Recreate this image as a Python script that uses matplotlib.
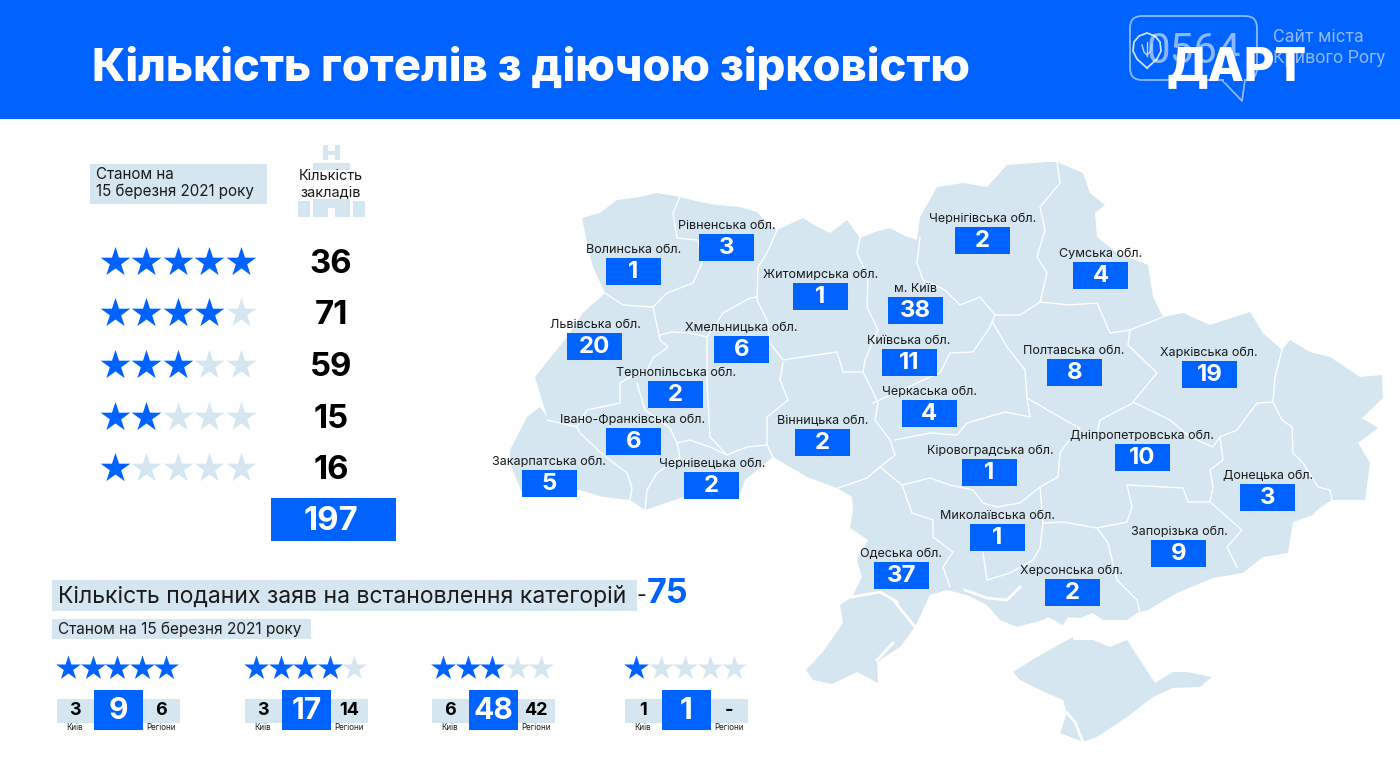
import matplotlib
matplotlib.use("Agg")
import matplotlib.pyplot as plt
from matplotlib.patches import Polygon, Rectangle, FancyBboxPatch

plt.rcParams['font.family'] = ['Inter', 'DejaVu Sans']

# star table
star_levels = [5, 4, 3, 2, 1]
star_counts = [36, 71, 59, 15, 16]
star_total = 197

# applications block
apps_total = 75
apps_levels = [5, 4, 3, 1]
apps_kyiv = ['3', '3', '6', '1']
apps_sum = ['9', '17', '48', '1']
apps_regions = ['6', '14', '42', '-']

# regions
region_names = ['Волинська обл.', 'Рівненська обл.', 'Житомирська обл.', 'м. Київ', 'Чернігівська обл.',
                'Сумська обл.', 'Львівська обл.', 'Хмельницька обл.', 'Київська обл.', 'Полтавська обл.',
                'Харківська обл.', 'Тернопільська обл.', 'Черкаська обл.', 'Івано-Франківська обл.',
                'Вінницька обл.', 'Дніпропетровська обл.', 'Кіровоградська обл.', 'Закарпатська обл.',
                'Чернівецька обл.', 'Донецька обл.', 'Миколаївська обл.', 'Запорізька обл.',
                'Одеська обл.', 'Херсонська обл.']
region_counts = [1, 3, 1, 38, 2, 4, 20, 6, 11, 8, 19, 2, 4, 6, 2, 10, 1, 5, 2, 3, 1, 9, 37, 2]

# layout: left and top of each region box, in image pixels
box_left = [606, 699, 793, 888, 955, 1073, 567, 714, 882, 1047, 1182, 648, 902, 606, 795, 1115, 962, 522, 684, 1240, 970, 1151, 874, 1045]
box_top = [258, 234, 283, 297, 227, 262, 333, 336, 349, 359, 361, 381, 400, 428, 429, 444, 459, 470, 472, 484, 524, 540, 562, 579]
label_x = [634, 727, 821, 916, 983, 1101, 595, 741, 909, 1074, 1209, 676, 929, 633, 823, 1142, 990, 549, 712, 1268, 998, 1179, 901, 1072]

BLUE = '#0062FF'
PALE = '#D5E6F0'
INK = '#1B1B1B'

# map outline, traced in image pixels
ukraine = [(582,218),(600,213),(617,200),(640,197),(657,193),(680,197),(700,202),(717,205),(740,207),(757,212),(768,224),(777,230),
           (803,218),(816,226),(830,233),(847,220),(860,238),(875,232),(890,228),(905,236),(917,240),(920,217),(928,203),(937,187),
           (963,183),(987,187),(1007,165),(1047,162),(1057,162),(1083,173),(1090,193),(1105,205),(1095,213),(1097,237),(1117,253),
           (1148,265),(1153,297),(1163,317),(1183,313),(1210,325),(1250,312),(1263,333),(1282,350),(1290,340),(1310,352),(1330,357),
           (1360,377),(1382,375),(1383,398),(1362,418),(1378,428),(1358,443),(1370,463),(1365,500),(1332,500),(1317,510),(1313,515),
           (1293,522),(1288,553),(1263,557),(1243,573),(1213,578),(1177,593),(1148,610),(1137,613),(1127,620),(1117,620),(1103,620),
           (1093,613),(1080,618),(1068,617),(1063,625),(1048,617),(1043,620),(1017,627),(1000,620),(987,605),
           (967,595),(947,590),(930,595),(915,627),(900,647),(877,662),(878,683),(857,672),(832,684),(813,680),(806,670),
           (822,653),(843,623),(840,605),(852,597),(862,577),(857,560),(868,540),(850,528),(853,510),(852,497),(837,488),
           (807,477),(773,457),(767,462),(745,480),(739,497),(683,497),(645,510),(630,500),(603,497),(580,490),(522,493),
           (510,463),(510,450),(527,417),(540,407),(547,417),(535,377),(567,337),(583,313),(605,293),(593,267),(587,243)]
crimea = [(1013,672),(1037,657),(1073,637),(1073,640),(1093,640),(1110,647),(1127,640),(1140,660),(1155,683),(1173,672),(1187,672),(1212,677),
          (1200,687),(1173,688),(1153,697),(1127,717),(1097,737),(1083,742),(1060,733),(1067,713),(1063,700),(1040,690),(1020,680)]
borders = [
    [(680,197),(673,213),(677,238),(698,240),(702,263),(693,283),(667,293),(653,307),(660,340),(668,347),(653,358),(647,370)],
    [(605,293),(623,305),(653,307)],
    [(660,335),(672,332),(690,333),(707,337),(723,313),(750,298),(757,297)],
    [(777,230),(767,253),(758,267),(757,300),(767,320),(770,343),(783,360),(837,352),(843,372),(863,372)],
    [(860,238),(857,253),(868,277),(867,307),(878,330),(865,360),(863,372),(872,390),(878,403),(875,420),(890,440),(895,455),(880,467),(867,478),(838,488)],
    [(707,337),(707,357),(707,383),(710,437),(727,455)],
    [(783,363),(780,380),(788,400),(767,417),(767,445)],
    [(677,443),(690,440),(710,447),(727,455),(747,447),(767,445),(773,457)],
    [(547,420),(577,427),(587,410),(620,403),(620,383),(630,377),(647,370)],
    [(637,383),(645,410),(670,428),(677,443),(680,457),(657,473),(647,490),(645,510)],
    [(577,427),(580,433),(600,452),(610,460),(627,473),(632,488),(630,500)],
    [(880,467),(902,485),(912,513),(933,520),(933,537),(953,552),(943,567),(950,587)],
    [(902,485),(930,478),(950,485),(973,490),(983,503),(997,507),(1020,503),(1040,487),(1043,523),(1040,548),(1033,560),(1010,573),(987,580),(983,553)],
    [(1043,523),(1063,522),(1097,528),(1127,522),(1132,507),(1127,485),(1183,488),(1188,502),(1210,502),(1242,530),(1227,547),(1237,567)],
    [(1097,528),(1108,543),(1117,580),(1137,600),(1140,613)],
    [(1210,502),(1213,487),(1210,470),(1223,460),(1220,437),(1237,430),(1257,403),(1273,402),(1282,420),(1292,427),(1293,453),(1303,463),(1318,487),(1330,490),(1332,500)],
    [(1282,350),(1275,377),(1273,402)],
    [(1040,302),(1070,305),(1097,303),(1110,333),(1130,330),(1163,317)],
    [(1057,162),(1060,183),(1040,207),(1045,230),(1037,257),(1047,273),(1040,302),(1020,315),(995,315),(980,297),(960,305),(945,290),(930,283),(923,280),(917,263),(920,237)],
    [(995,315),(990,327),(973,352),(950,353),(940,373),(930,377),(873,403)],
    [(993,323),(1007,347),(1025,370),(1027,398),(1030,417),(1005,412),(967,423),(957,435),(930,433),(895,440)],
    [(1027,398),(1070,423),(1080,428),(1067,443),(1060,453),(1058,477),(1047,483),(1040,487)],
    [(1130,330),(1128,345),(1157,373),(1133,402),(1170,420),(1190,437),(1213,447),(1220,437)],
    [(1133,403),(1100,420),(1097,433)],
]
water = [[(965,590),(987,598),(1007,600),(1020,587)], [(895,602),(915,627)],
         [(852,597),(880,592),(897,602)], [(1067,713),(1075,722),(1083,742)], [(877,660),(893,643)]]

fig = plt.figure(figsize=(14, 7.63), dpi=100)
ax = fig.add_axes([0, 0, 1, 1])
ax.set_xlim(0, 1400)
ax.set_ylim(763, 0)
ax.axis('off')


def box(x0, y0, x1, y1, color, z=2, **kw):
    ax.add_patch(Rectangle((x0, y0), x1 - x0, y1 - y0, facecolor=color, edgecolor='none', zorder=z, **kw))


def txt(x, y, s, px, color=INK, ha='center', weight='normal', z=6, **kw):
    # px is the font size in image pixels, y is nudged since va=center sits high
    return ax.text(x, y + 0.1 * px, s, fontsize=px * 0.72, color=color, ha=ha, va='center', fontweight=weight, zorder=z, **kw)


def star_row(x0, step, y, level, px_r):
    for i in range(5):
        color = BLUE if i < level else PALE
        ax.scatter(x0 + i * step, y, marker='*', s=(2 * px_r * 0.72) ** 2, color=color, linewidths=0, zorder=4)


# header
box(0, 0, 1400, 119, BLUE, z=1)
txt(92, 63, 'Кількість готелів з діючою зірковістю', 45.2, color='white', ha='left', weight=800)

# logo
logo_col = '#8DB8FF'
ax.add_patch(FancyBboxPatch((1130, 16), 127, 64, boxstyle='round,pad=0,rounding_size=12', fill=False, edgecolor=logo_col, lw=1.3, zorder=3))
ax.plot([1222, 1242, 1245], [80, 101, 80], color=logo_col, lw=1.3, zorder=3)
box(1224, 78.5, 1244, 81.5, BLUE, z=3)
ax.plot([1147, 1137, 1133, 1134, 1139, 1147, 1155, 1160, 1161, 1157, 1147], [68, 59, 51, 42, 36, 33, 36, 42, 51, 59, 68], color='white', lw=1.3, alpha=0.8, zorder=4)
ax.plot([1142, 1144, 1147, 1150, 1152], [45, 52, 55, 52, 45], color='#BBD5FF', lw=1, zorder=4)
ax.plot([1147, 1147], [42, 56], color='#BBD5FF', lw=1, zorder=4)
txt(1194, 47, '0564', 42, color=logo_col, z=3, family=['Roboto', 'DejaVu Sans'])
txt(1273, 35, 'Сайт міста', 18, color=logo_col, ha='left', family=['Roboto', 'DejaVu Sans'])
txt(1273, 56, 'Кривого Рогу', 18, color=logo_col, ha='left', family=['Roboto', 'DejaVu Sans'])
txt(1237, 63, 'ДАРТ', 47, color='white', weight=800)

# top left table
box(90, 164, 267, 204, PALE)
txt(96, 173, 'Станом на', 15.2, ha='left')
txt(96, 190, '15 березня 2021 року', 15.2, ha='left')

# building behind the column title
box(323, 145, 328, 160, PALE)
box(335, 145, 340, 160, PALE)
box(323, 151, 340, 155, PALE)
box(313, 163, 350, 217, PALE)
box(298, 201, 310, 217, PALE)
box(353, 201, 365, 217, PALE)
box(295, 170, 368, 199, 'white', z=2.5)
box(328, 208, 335, 217, 'white', z=2.7)
txt(331, 175, 'Кількість', 14.5)
txt(331, 191, 'закладів', 14.5)

rows_y = [262, 313, 365, 417, 468]
for level, count, y in zip(star_levels, star_counts, rows_y):
    star_row(115, 31.4, y, level, 15.6)
    txt(331, y - 1, str(count), 33, color='black', weight='bold')
box(271, 498, 396, 541, BLUE)
txt(331, 518, str(star_total), 33, color='white', weight='bold')

# applications block
box(52, 580, 637, 611, PALE)
txt(58, 594, 'Кількість поданих заяв на встановлення категорій', 23, ha='left')
txt(636, 594, '-', 21.5, ha='left')
txt(647, 591, str(apps_total), 34, color=BLUE, ha='left', weight='bold')
box(52, 619, 311, 639, PALE)
txt(58, 628, 'Станом на 15 березня 2021 року', 15.4, ha='left')

group_x = [57, 245, 432, 625]
for x0, level, kyiv, total, regions in zip(group_x, apps_levels, apps_kyiv, apps_sum, apps_regions):
    star_row(x0 + 11, 24.6, 668, level, 13)
    box(x0, 699, x0 + 123, 723, PALE)
    box(x0 + 37, 690, x0 + 86, 730, BLUE, z=3)
    txt(x0 + 18, 709, kyiv, 18, color='black', weight='bold')
    txt(x0 + 61.5, 708, total, 30, color='white', weight='bold')
    txt(x0 + 104, 709, regions, 18, color='black', weight='bold')
    txt(x0 + 18, 727, 'Київ', 8)
    txt(x0 + 104, 727, 'Регіони', 8)

# map
ax.add_patch(Polygon(ukraine, closed=True, facecolor=PALE, edgecolor='none', zorder=1))
ax.add_patch(Polygon(crimea, closed=True, facecolor=PALE, edgecolor='none', zorder=1))
for line in borders:
    ax.plot([p[0] for p in line], [p[1] for p in line], color='white', lw=1, zorder=1.5)
for line in water:
    ax.plot([p[0] for p in line], [p[1] for p in line], color='white', lw=2, zorder=1.5)

for name, count, x0, y0, lx in zip(region_names, region_counts, box_left, box_top, label_x):
    box(x0, y0, x0 + 55, y0 + 27, BLUE, z=3)
    txt(lx, y0 - 9, name, 12.6)
    txt(x0 + 27.5, y0 + 12, str(count), 24, color='white', weight='bold')

fig.savefig('out.png', dpi=100)
